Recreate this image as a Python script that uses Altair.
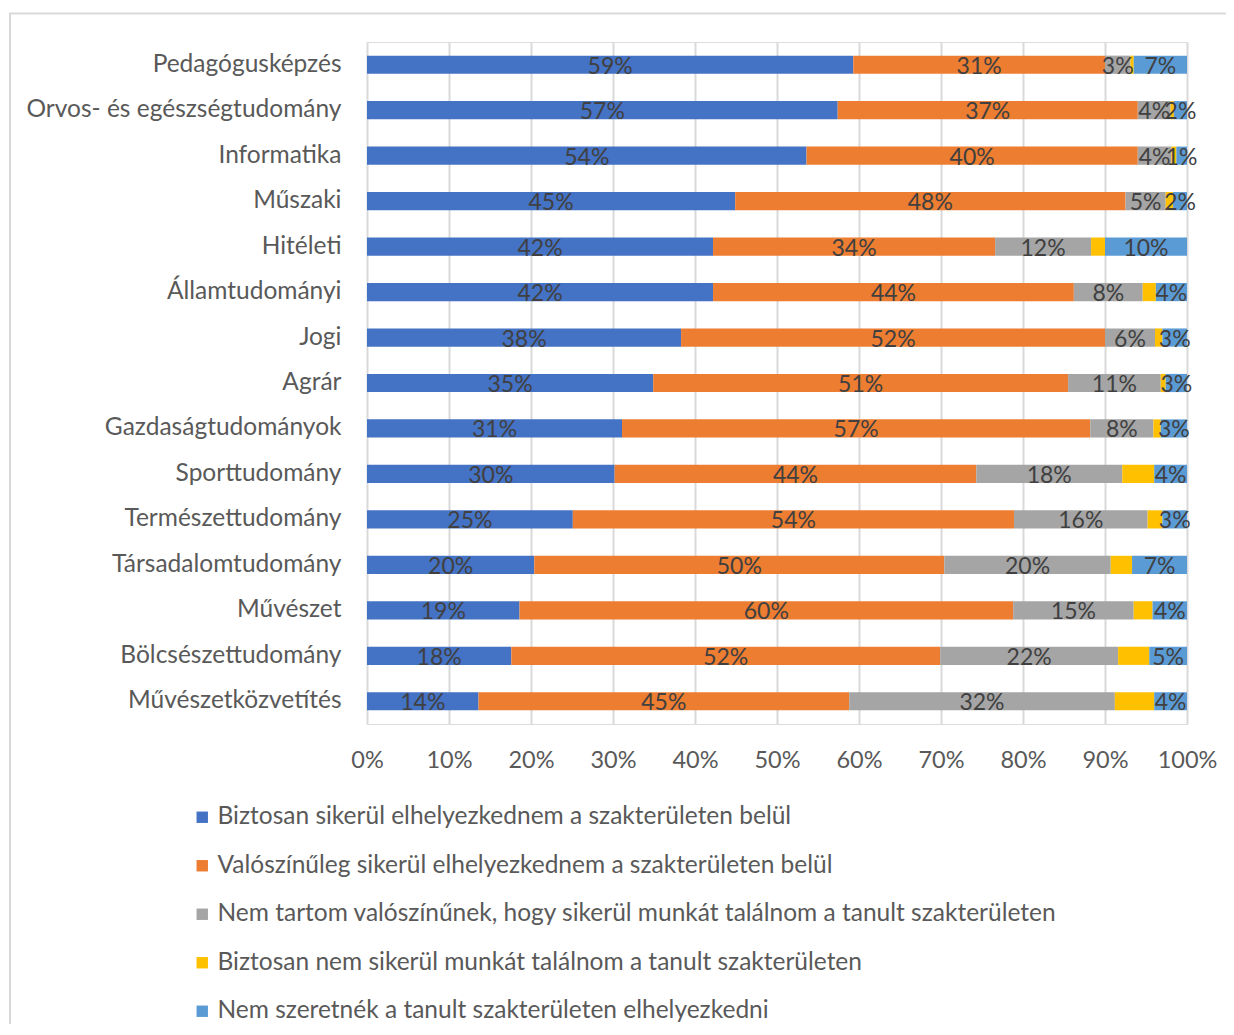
import altair as alt
import pandas as pd

categories = [
    "Pedagógusképzés", "Orvos- és egészségtudomány", "Informatika", "Műszaki",
    "Hitéleti", "Államtudományi", "Jogi", "Agrár", "Gazdaságtudományok",
    "Sporttudomány", "Természettudomány", "Társadalomtudomány", "Művészet",
    "Bölcsészettudomány", "Művészetközvetítés",
]
series = [
    "Biztosan sikerül elhelyezkednem a szakterületen belül",
    "Valószínűleg sikerül elhelyezkednem a szakterületen belül",
    "Nem tartom valószínűnek, hogy sikerül munkát találnom a tanult szakterületen",
    "Biztosan nem sikerül munkát találnom a tanult szakterületen",
    "Nem szeretnék a tanult szakterületen elhelyezkedni",
]
s1 = [59.3, 57.4, 53.6, 44.9, 42.2, 42.2, 38.3, 34.9, 31.1, 30.2, 25.1, 20.4, 18.6, 17.6, 13.6]
s2 = [30.7, 36.6, 40.4, 47.6, 34.4, 44.0, 51.7, 50.6, 57.1, 44.1, 53.8, 50.0, 60.2, 52.3, 45.2]
s3 = [3.1, 4.0, 4.1, 4.9, 11.7, 8.4, 6.1, 11.3, 7.7, 17.8, 16.3, 20.3, 14.7, 21.7, 32.4]
s4 = [0.4, 0.4, 0.6, 0.9, 1.7, 1.6, 0.9, 0.6, 0.9, 3.9, 1.8, 2.6, 2.3, 3.8, 4.8]
s5 = [6.5, 1.6, 1.3, 1.7, 10.0, 3.8, 3.0, 2.6, 3.2, 4.0, 3.0, 6.7, 4.2, 4.6, 4.0]
colors = ["#4472C4", "#ED7D31", "#A5A5A5", "#FFC000", "#5B9BD5"]
x_ticks = [0, 10, 20, 30, 40, 50, 60, 70, 80, 90, 100]

rows = []
for si, (name, vals) in enumerate(zip(series, [s1, s2, s3, s4, s5])):
    for c, v in zip(categories, vals):
        rows.append({"cat": c, "series": name, "order": si, "value": v})
df = pd.DataFrame(rows)

FONT = "Lato"
FS_CAT = 24.5
FS_TICK = 23.5
FS_DATA = 23

base = alt.Chart(df).transform_stack(
    stack="value", groupby=["cat"], as_=["x0", "x1"], sort=[{"field": "order", "order": "ascending"}]
).transform_calculate(
    mid="(datum.x0 + datum.x1) / 2",
    label="format(datum.value / 100, '.0%')",
)

yenc = alt.Y("cat:N", sort=categories, title=None,
             scale=alt.Scale(paddingInner=0.6, paddingOuter=0.3),
             axis=alt.Axis(domain=False, ticks=False, labelFont=FONT, labelFontSize=FS_CAT,
                           labelColor="#595959", labelPadding=26, labelLimit=400))

bars = base.mark_bar().encode(
    x=alt.X("x0:Q", title=None, scale=alt.Scale(domain=[0, 100], nice=False),
            axis=alt.Axis(values=x_ticks, labelExpr="datum.value + '%'", domain=False, ticks=False,
                          grid=True, gridColor="#d9d9d9", gridWidth=2, labelFlush=False,
                          labelFont=FONT, labelFontSize=FS_TICK, labelColor="#595959", labelPadding=24)),
    x2="x1:Q",
    y=yenc,
    color=alt.Color("series:N", sort=series, title=None,
                    scale=alt.Scale(domain=series, range=colors),
                    legend=alt.Legend(orient="none", legendX=-177, legendY=763, direction="vertical",
                                      symbolType="square", symbolSize=130, symbolStrokeWidth=0,
                                      labelFont=FONT, labelFontSize=FS_CAT, labelColor="#595959",
                                      labelLimit=1000, rowPadding=23.5, symbolOffset=0, labelOffset=3)),
    order=alt.Order("order:Q"),
)

labels = base.transform_filter("datum.order != 3").mark_text(
    font=FONT, fontSize=FS_DATA, color="#404040", dy=2
).encode(
    x=alt.X("mid:Q"),
    y=alt.Y("cat:N", sort=categories),
    text="label:N",
)

frame = alt.Chart(alt.Data(values=[{}])).mark_rect(
    filled=False, stroke="#d9d9d9", strokeWidth=2
).encode(
    x=alt.value(-357), x2=alt.value(1000), y=alt.value(-28.5), y2=alt.value(1100)
)

chart = alt.layer(frame, bars, labels).properties(
    width=820, height=682,
    autosize=alt.AutoSizeParams(type="none"),
    padding={"left": 359, "top": 34, "right": 39, "bottom": 300},
).configure_view(stroke=None).configure(background="white")

chart.save("out.html", embed_options={"renderer": "svg", "actions": False})
